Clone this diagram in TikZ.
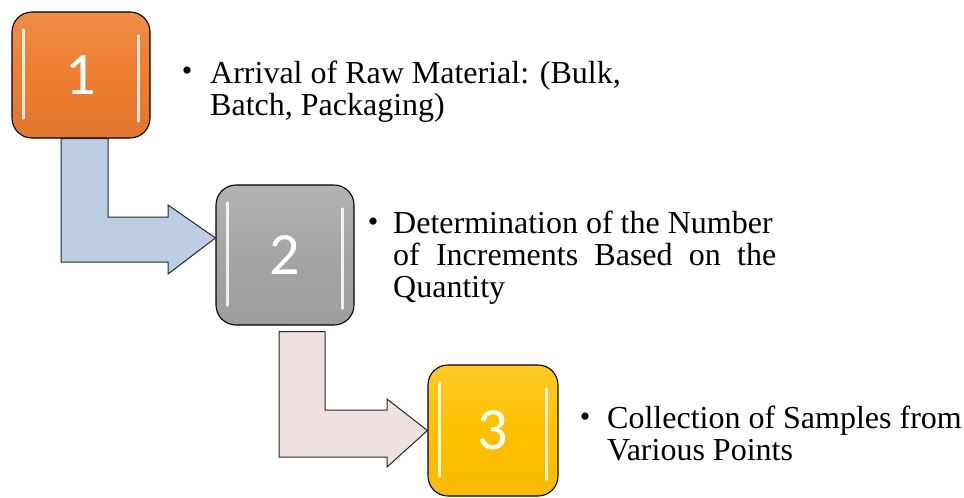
\documentclass[tikz,border=0pt]{standalone}
\usepackage{fontspec}
\setmainfont{Liberation Serif}
\newfontfamily\numfont{Carlito}
\usetikzlibrary{calc}

\definecolor{stepOrange}{HTML}{ED7D31}
\definecolor{stepGray}{HTML}{A5A5A5}
\definecolor{stepGold}{HTML}{FFC000}
\definecolor{flowBlue}{HTML}{BDCDE4}
\definecolor{flowPink}{HTML}{EEE1DF}

\begin{document}
\begin{tikzpicture}[x=1pt,y=-1pt,
  stepbox/.style={draw=black, line width=1.1pt, rounded corners=20pt,
    inner sep=0pt, text=white, font=\numfont\fontsize{60}{60}\selectfont},
  glint/.style={white, line width=2.4pt, line cap=round, opacity=0.85},
  flowarrow/.style={draw=black!85, line width=1pt, line join=miter},
  bullet/.style={inner sep=0pt, font=\fontsize{30}{30}\selectfont},
  steptext/.style={anchor=base west, inner sep=0pt, font=\fontsize{32}{32}\selectfont}]
\useasboundingbox (0,0) rectangle (964,498);

% step boxes
\node[stepbox, minimum width=138pt, minimum height=126pt,
      top color=stepOrange!88!white, bottom color=stepOrange!95!black, middle color=stepOrange]
      (b1) at (81,75) {1};
\node[stepbox, minimum width=138pt, minimum height=140pt,
      top color=stepGray!85!white, bottom color=stepGray!95!black, middle color=stepGray]
      (b2) at (285,255) {2};
\node[stepbox, minimum width=130pt, minimum height=131pt,
      top color=stepGold!85!white, bottom color=stepGold!97!black, middle color=stepGold]
      (b3) at (493,430.5) {3};

% bent arrows between the steps
\filldraw[flowarrow, fill=flowBlue]
  ($(b1.south)+(-20,0)$) -- ($(b1.south)+(27,0)$) -- (108,217) -- (168,217)
  -- (168,205) -- ($(b2.west)+(0,-17)$) -- (168,274) -- (168,262)
  -- (61,262) -- cycle;
\filldraw[flowarrow, fill=flowPink]
  ($(b2.south)+(-6,6)$) -- ($(b2.south)+(40,6)$) -- (325,410) -- (387,410)
  -- (387,399) -- (b3.west) -- (387,467) -- (387,457)
  -- (279,457) -- cycle;

% vertical highlights inside the boxes
\foreach \b in {b1,b2,b3}{
  \draw[glint] ($(\b.north west)+(12,18)$) -- ($(\b.south west)+(12,-20)$);
  \draw[glint] ($(\b.north east)+(-12,24)$) -- ($(\b.south east)+(-12,-17)$);
}

% descriptions
\node[bullet] (d1) at (187,74) {•};
\node[steptext] (t1) at (210,83)
  {\parbox[t]{420pt}{\raggedright Arrival of Raw Material: (Bulk,\\Batch, Packaging)}};

\node[bullet] (d2) at (373,225) {•};
\node[steptext] (t2) at (393,233)
  {\parbox[t]{420pt}{\raggedright Determination of the Number\\
   \makebox[383pt][s]{of Increments Based on the}\\Quantity}};

\node[bullet] (d3) at (585,420) {•};
\node[steptext] (t3) at (607,428)
  {\parbox[t]{360pt}{\raggedright Collection of Samples from\\Various Points}};
\end{tikzpicture}
\end{document}
